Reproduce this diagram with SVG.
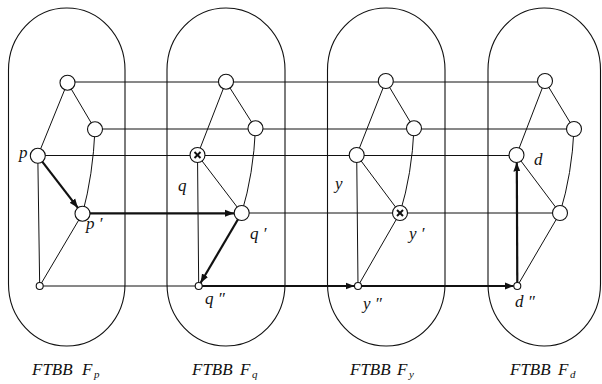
<svg xmlns="http://www.w3.org/2000/svg" width="602" height="384" viewBox="0 0 602 384">
<style>
.cap{fill:none;stroke:#111;stroke-width:1.1}
.thin{fill:none;stroke:#111;stroke-width:1}
.thick{fill:none;stroke:#111;stroke-width:2.2}
.nd{fill:#fff;stroke:#111;stroke-width:1.1}
.xm{stroke:#111;stroke-width:2}
.lb{font-family:"Liberation Serif","Times New Roman",serif;font-style:italic;font-size:17px;fill:#111}
.cl{font-family:"Liberation Serif","Times New Roman",serif;font-style:italic;font-size:17px;fill:#111}
.sub{font-size:11px}
</style>
<defs>
<marker id="ah" markerUnits="userSpaceOnUse" markerWidth="9" markerHeight="8" viewBox="0 0 9 8" refX="9" refY="4" orient="auto">
<path d="M0,0.5 L9,4 L0,7.5 Z" fill="#111"/>
</marker>
</defs>
<g id="capsules">
<rect id="cap-p" class="cap" x="8.5" y="8" width="116.5" height="338" rx="58" ry="62"/>
<rect id="cap-q" class="cap" x="167" y="8" width="118" height="338" rx="59" ry="62"/>
<rect id="cap-y" class="cap" x="327.5" y="8" width="117.5" height="338" rx="58.5" ry="62"/>
<rect id="cap-d" class="cap" x="488" y="8" width="112.5" height="338" rx="56" ry="62"/>
</g>
<g id="connectors">
<line class="thin" x1="67.5" y1="82" x2="545" y2="82"/>
<line class="thin" x1="95" y1="129" x2="574" y2="129"/>
<line class="thin" x1="38" y1="155.5" x2="516.5" y2="155.5"/>
<line class="thin" x1="241.7" y1="213" x2="560" y2="213"/>
<line class="thin" x1="39.7" y1="286" x2="198.7" y2="286"/>
<line class="thin" x1="67.5" y1="82.7" x2="95" y2="129.3"/>
<line class="thin" x1="67.5" y1="82.7" x2="37.8" y2="155.8"/>
<path class="thin" d="M95,129.3 Q93,175 82.5,213.7"/>
<line class="thin" x1="37.8" y1="155.8" x2="39.7" y2="286"/>
<line class="thin" x1="82.5" y1="213.7" x2="39.7" y2="286"/>
<line class="thin" x1="226" y1="81.7" x2="255.5" y2="128.3"/>
<line class="thin" x1="226" y1="81.7" x2="197.5" y2="155"/>
<path class="thin" d="M255.5,128.3 Q253.5,174 241.7,213"/>
<line class="thin" x1="197.5" y1="155" x2="241.7" y2="213"/>
<line class="thin" x1="197.5" y1="155" x2="198.7" y2="286"/>
<line class="thin" x1="385.8" y1="81" x2="414" y2="128.3"/>
<line class="thin" x1="385.8" y1="81" x2="356.7" y2="155"/>
<path class="thin" d="M414,128.3 Q412,174 400,213"/>
<line class="thin" x1="356.7" y1="155" x2="400" y2="213"/>
<line class="thin" x1="356.7" y1="155" x2="358" y2="286"/>
<line class="thin" x1="400" y1="213" x2="358" y2="286"/>
<line class="thin" x1="545" y1="81" x2="574" y2="129"/>
<line class="thin" x1="545" y1="81" x2="516.5" y2="155"/>
<path class="thin" d="M574,129 Q572,174 560,213"/>
<line class="thin" x1="516.5" y1="155" x2="560" y2="213"/>
<line class="thin" x1="560" y1="213" x2="517.3" y2="286"/>
<line class="thick" x1="37.8" y1="155.8" x2="77.9" y2="207.8" marker-end="url(#ah)"/>
<line class="thick" x1="82.5" y1="213.3" x2="234" y2="213.3" marker-end="url(#ah)"/>
<line class="thick" x1="241.7" y1="213" x2="200.5" y2="283" marker-end="url(#ah)"/>
<line class="thick" x1="198.7" y1="286" x2="354.5" y2="286" marker-end="url(#ah)"/>
<line class="thick" x1="358" y1="286" x2="513.8" y2="286" marker-end="url(#ah)"/>
<line class="thick" x1="517.3" y1="286" x2="516.8" y2="162.5" marker-end="url(#ah)"/>
</g>
<g id="node-p1"><circle class="nd" cx="67.5" cy="82.7" r="7.5"/></g>
<g id="node-p2"><circle class="nd" cx="95" cy="129.3" r="7.5"/></g>
<g id="node-p"><circle class="nd" cx="37.8" cy="155.8" r="7.5"/><text class="lb" x="19" y="158">p</text></g>
<g id="node-p-prime"><circle class="nd" cx="82.5" cy="213.7" r="7.5"/><text class="lb" x="86" y="229">p ′</text></g>
<g id="node-p0"><circle class="nd" cx="39.7" cy="286" r="3.5"/></g>

<g id="node-q1"><circle class="nd" cx="226" cy="81.7" r="7.5"/></g>
<g id="node-q2"><circle class="nd" cx="255.5" cy="128.3" r="7.5"/></g>
<g id="node-q"><circle class="nd" cx="197.5" cy="155" r="7.5"/><line class="xm" x1="194.5" y1="152" x2="200.5" y2="158"/><line class="xm" x1="200.5" y1="152" x2="194.5" y2="158"/><text class="lb" x="178" y="191">q</text></g>
<g id="node-q-prime"><circle class="nd" cx="241.7" cy="213" r="7.5"/><text class="lb" x="250" y="239">q ′</text></g>
<g id="node-q-dprime"><circle class="nd" cx="198.7" cy="286" r="3.5"/><text class="lb" x="205" y="304">q ″</text></g>

<g id="node-y1"><circle class="nd" cx="385.8" cy="81" r="7.5"/></g>
<g id="node-y2"><circle class="nd" cx="414" cy="128.3" r="7.5"/></g>
<g id="node-y"><circle class="nd" cx="356.7" cy="155" r="7.5"/><text class="lb" x="335" y="189">y</text></g>
<g id="node-y-prime"><circle class="nd" cx="400" cy="213" r="7.5"/><line class="xm" x1="397" y1="210" x2="403" y2="216"/><line class="xm" x1="403" y1="210" x2="397" y2="216"/><text class="lb" x="409" y="239">y ′</text></g>
<g id="node-y-dprime"><circle class="nd" cx="358" cy="286" r="3.5"/><text class="lb" x="363" y="309">y ″</text></g>

<g id="node-d1"><circle class="nd" cx="545" cy="81" r="7.5"/></g>
<g id="node-d2"><circle class="nd" cx="574" cy="129" r="7.5"/></g>
<g id="node-d"><circle class="nd" cx="516.5" cy="155" r="7.5"/><text class="lb" x="534" y="165">d</text></g>
<g id="node-d3"><circle class="nd" cx="560" cy="213" r="7.5"/></g>
<g id="node-d-dprime"><circle class="nd" cx="517.3" cy="286" r="3.5"/><text class="lb" x="515" y="307">d ″</text></g>

<g id="captions">
<text class="cl" x="32" y="375">FTBB<tspan x="82">F</tspan><tspan class="sub" x="94" dy="3">p</tspan></text>
<text class="cl" x="192" y="375">FTBB<tspan x="240">F</tspan><tspan class="sub" x="252" dy="3">q</tspan></text>
<text class="cl" x="350" y="375">FTBB<tspan x="397">F</tspan><tspan class="sub" x="409" dy="3">y</tspan></text>
<text class="cl" x="510" y="375">FTBB<tspan x="558">F</tspan><tspan class="sub" x="570" dy="3">d</tspan></text>
</g>
</svg>
